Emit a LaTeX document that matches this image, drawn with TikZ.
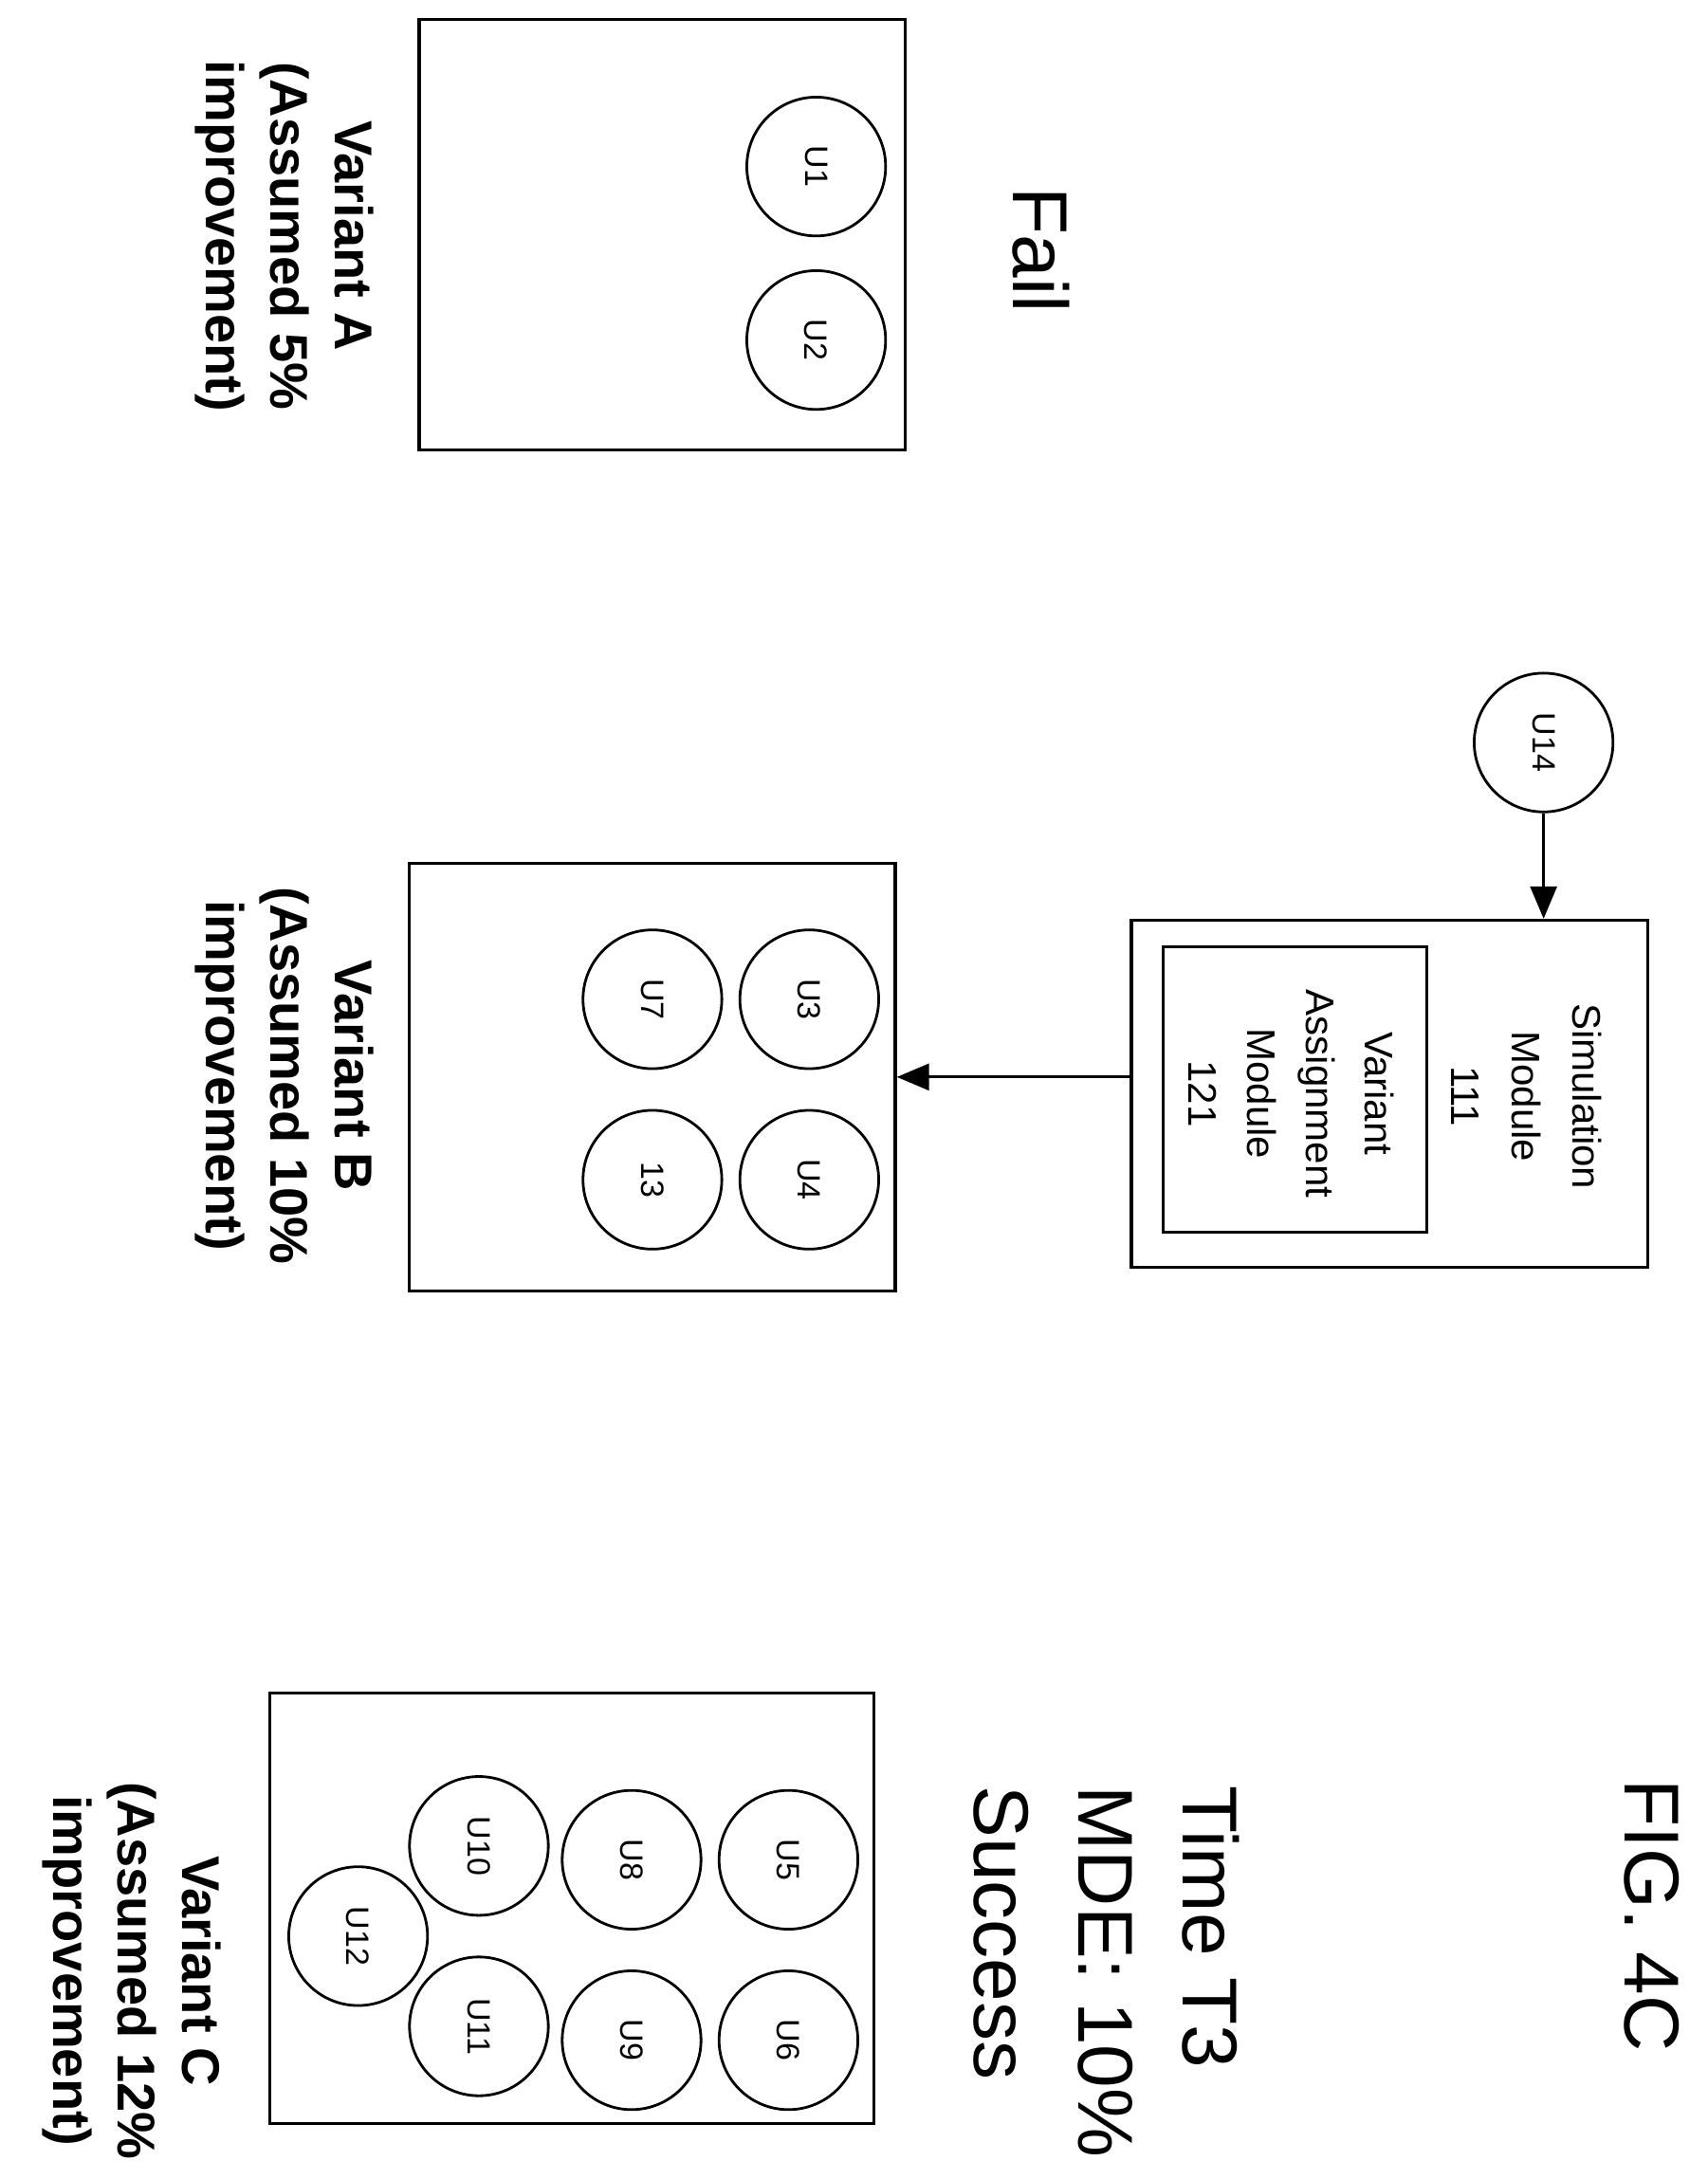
\documentclass[tikz,border=0pt]{standalone}
\usepackage{fontspec}
\setmainfont{Liberation Sans}
\usetikzlibrary{arrows.meta}
\begin{document}
\begin{tikzpicture}[x=0.7317pt,y=-0.7317pt,
  box/.style={draw,line width=1.6pt},
  u/.style={draw,circle,line width=1.4pt,minimum size={100*0.7317pt},inner sep=0pt,rotate=-90,font=\fontsize{17}{17}\selectfont},
  lab/.style={rotate=-90,align=center,font=\bfseries\fontsize{28}{34}\selectfont},
  big/.style={rotate=-90,align=left,font=\fontsize{41}{55}\selectfont},
  arr/.style={-{Triangle[length=17pt,width=14pt]},line width=1.4pt}]
\useasboundingbox (0,0) rectangle (1230,1570);
% Variant A
\node[box,minimum width={350*0.7317pt},minimum height={310*0.7317pt}] (A) at (477,169) {};
\node[u] (u1) at (588,120) {U1};
\node[u] (u2) at (588,245) {U2};
\node[lab] (la) at (205,170) {Variant A\\(Assumed 5\%\\improvement)};
\node[big] (fail) at (750,180) {Fail};
% Simulation
\node[u] (u14) at (1112,535) {U14};
\node[box,minimum width={372*0.7317pt},minimum height={250*0.7317pt}] (sim) at (1001,788) {};
\node[box,minimum width={190*0.7317pt},minimum height={206*0.7317pt}] (va) at (933,785) {};
\node[rotate=-90,align=center,font=\fontsize{21}{32}\selectfont] (simt) at (1100,790) {Simulation\\Module\\111};
\node[rotate=-90,align=center,font=\fontsize{21}{31}\selectfont] (vat) at (930,788) {Variant\\Assignment\\Module\\121};
\draw[arr] (u14) -- (u14|-sim.north);
% Variant B
\node[box,minimum width={350*0.7317pt},minimum height={308*0.7317pt}] (B) at (470,776) {};
\draw[arr] (sim.west|-B) -- (B.east);
\node[u] (u3) at (583,720) {U3};
\node[u] (u4) at (583,850) {U4};
\node[u] (u7) at (470,720) {U7};
\node[u] (u13) at (470,850) {13};
\node[lab] (lb) at (205,775) {Variant B\\(Assumed 10\%\\improvement)};
% Variant C
\node[box,minimum width={435*0.7317pt},minimum height={310*0.7317pt}] (C) at (412,1375) {};
\node[u] (u5) at (568,1340) {U5};
\node[u] (u6) at (568,1470) {U6};
\node[u] (u8) at (455,1340) {U8};
\node[u] (u9) at (455,1470) {U9};
\node[u] (u10) at (345,1330) {U10};
\node[u] (u11) at (345,1460) {U11};
\node[u] (u12) at (258,1395) {U12};
\node[lab] (lc) at (95,1420) {Variant C\\(Assumed 12\%\\improvement)};
\node[big,anchor=north west] (time) at (898,1282) {Time T3\\MDE: 10\%\\Success};
\node[big] (fig) at (1190,1380) {FIG. 4C};
\end{tikzpicture}
\end{document}
